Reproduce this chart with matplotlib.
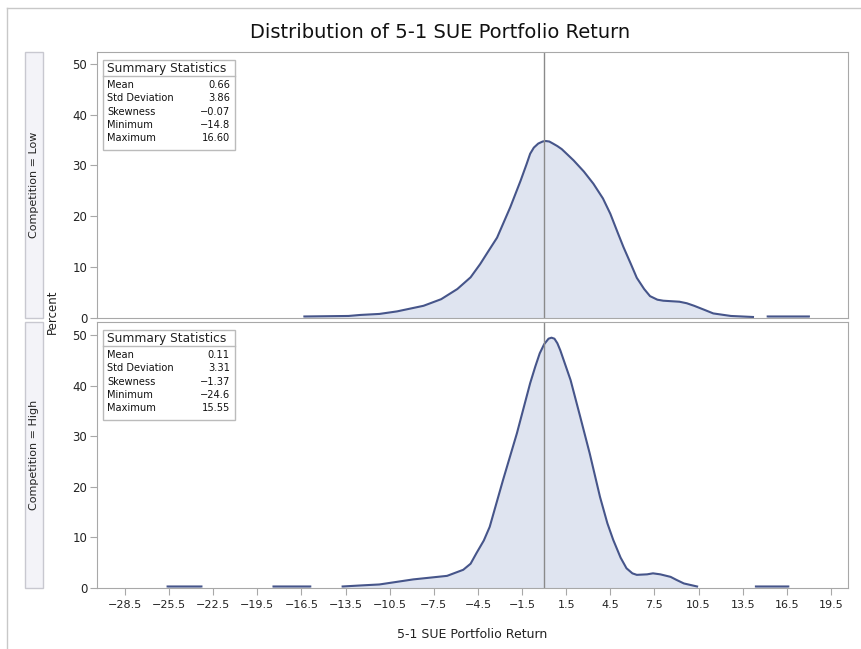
import numpy as np
import matplotlib
matplotlib.use("Agg")
import matplotlib.pyplot as plt
from matplotlib.patches import Rectangle
from matplotlib.lines import Line2D

# density curves (nan = gap in the curve)
low_x = [-16.3, -13.3, -12.5, -11.2, -10.0, -8.2, -7.0, -5.9, -5.0, -4.35, -3.8, -3.2, -2.3,
         -1.6, -1.2, -0.95, -0.7, -0.4, -0.1, 0.1, 0.35, 0.6, 0.9, 1.2, 2.0, 2.7, 3.35, 4.0,
         4.5, 5.0, 5.4, 5.9, 6.3, 6.8, 7.2, 7.7, 8.1, 9.2, 9.7, 10.2, 10.9, 11.5, 12.7, 14.2,
         np.nan, 15.2, 18.0]
low_y = [0.3, 0.4, 0.6, 0.8, 1.3, 2.4, 3.7, 5.7, 8.0, 10.6, 13.1, 15.8, 21.8,
         27.0, 30.2, 32.3, 33.5, 34.3, 34.7, 34.8, 34.7, 34.3, 33.8, 33.2, 31.0, 28.8, 26.4, 23.5,
         20.5, 16.8, 13.9, 10.6, 7.9, 5.7, 4.3, 3.6, 3.4, 3.2, 2.9, 2.4, 1.6, 0.9, 0.4, 0.2,
         np.nan, 0.3, 0.3]

high_x = [-25.6, -23.3, np.nan, -18.4, -15.9, np.nan, -13.7, -12.5, -11.2, -8.9, -6.6, -5.5,
          -5.0, -4.6, -4.1, -3.7, -2.8, -1.85, -0.95, -0.6, -0.3, 0.0, 0.3, 0.5, 0.7, 0.9, 1.1,
          1.8, 2.45, 3.1, 3.8, 4.3, 4.7, 5.2, 5.6, 6.0, 6.3, 7.0, 7.4, 7.9, 8.6, 9.0, 9.5, 10.4,
          np.nan, 14.4, 16.6]
high_y = [0.3, 0.3, np.nan, 0.3, 0.3, np.nan, 0.3, 0.5, 0.7, 1.7, 2.4, 3.6,
          4.8, 6.9, 9.4, 12.1, 21.3, 30.6, 40.5, 43.8, 46.4, 48.2, 49.3, 49.5, 49.3, 48.4, 47.0,
          41.1, 33.9, 26.6, 18.0, 12.8, 9.5, 6.0, 3.9, 2.9, 2.6, 2.7, 2.9, 2.7, 2.2, 1.6, 0.9, 0.3,
          np.nan, 0.3, 0.3]

stat_names = ["Mean", "Std Deviation", "Skewness", "Minimum", "Maximum"]
low_stats = ["0.66", "3.86", "\u22120.07", "\u221214.8", "16.60"]
high_stats = ["0.11", "3.31", "\u22121.37", "\u221224.6", "15.55"]

panel_labels = ["Competition = Low", "Competition = High"]
x_ticks = [-28.5, -25.5, -22.5, -19.5, -16.5, -13.5, -10.5, -7.5, -4.5, -1.5,
           1.5, 4.5, 7.5, 10.5, 13.5, 16.5, 19.5]
y_ticks = [0, 10, 20, 30, 40, 50]

W, H = 862, 649
fig = plt.figure(figsize=(W / 100, H / 100), dpi=100)

line_col = "#46558a"
fill_col = "#dfe4f0"
frame_col = "#a8a8a8"

def fx(px):
    return px / W

def fy(py):
    return 1 - py / H

# outer border
fig.add_artist(Line2D([fx(7), fx(7)], [fy(8), 0], color="#c8c8c8", lw=1))
fig.add_artist(Line2D([fx(7), 1], [fy(8), fy(8)], color="#c8c8c8", lw=1))

panels = [(52, 318, low_x, low_y, low_stats, 52.3),
          (322, 588, high_x, high_y, high_stats, 52.6)]

for i, (top, bot, xs, ys, stats, ytop) in enumerate(panels):
    ax = fig.add_axes([fx(97), fy(bot), fx(848) - fx(97), fy(top) - fy(bot)])
    xs = np.array(xs)
    ys = np.array(ys)
    ax.fill_between(xs, ys, 0, color=fill_col, lw=0)
    ax.plot(xs, ys, color=line_col, lw=1.5, solid_joinstyle="round")
    ax.axvline(0, color="#8a8a8a", lw=1)
    ax.set_xlim(-30.4, 20.66)
    ax.set_ylim(0, ytop)
    ax.set_yticks(y_ticks)
    ax.set_xticks(x_ticks)
    for s in ax.spines.values():
        s.set_color(frame_col)
    ax.tick_params(axis="y", direction="out", length=5, color=frame_col, labelsize=8.5,
                   pad=2, labelcolor="#222222")
    if i == 0:
        ax.tick_params(axis="x", bottom=False, labelbottom=False)
    else:
        ax.tick_params(axis="x", direction="out", length=5, color=frame_col, labelsize=8,
                       pad=4, labelcolor="#222222")
        ax.set_xticklabels([f"{t:.1f}".replace("-", "\u2212") for t in x_ticks])

    # summary statistics inset
    bx0, bx1 = 103, 235
    by0 = top + 8
    ax.add_patch(Rectangle((fx(bx0), fy(by0 + 90)), fx(bx1 - bx0), fy(0) - fy(90),
                           transform=fig.transFigure, facecolor="white",
                           edgecolor="#bbbbbb", lw=1, zorder=5))
    fig.add_artist(Line2D([fx(bx0), fx(bx1)], [fy(by0 + 16), fy(by0 + 16)],
                          color="#bbbbbb", lw=1, zorder=6))
    fig.text(fx(bx0 + 4), fy(by0 + 8.5), "Summary Statistics", fontsize=8.8,
             va="center", ha="left", color="#222222", zorder=7)
    for k, (nm, v) in enumerate(zip(stat_names, stats)):
        yy = fy(by0 + 25 + k * 13.3)
        fig.text(fx(bx0 + 4), yy, nm, fontsize=7.1, va="center", ha="left",
                 color="#111111", zorder=7)
        fig.text(fx(bx1 - 5), yy, v, fontsize=7.1, va="center", ha="right",
                 color="#111111", zorder=7)

    # strip label on the left
    fig.add_artist(Rectangle((fx(25), fy(bot)), fx(18), fy(top) - fy(bot),
                             facecolor="#f3f3f8", edgecolor="#c8c8d0", lw=1))
    fig.text(fx(34), fy((top + bot) / 2), panel_labels[i], rotation=90, fontsize=8,
             ha="center", va="center", color="#222222")

fig.text(fx(52), fy(312), "Percent", rotation=90, fontsize=8.5, ha="center", va="center",
         color="#222222")
fig.text(fx(440), fy(33), "Distribution of 5-1 SUE Portfolio Return", fontsize=14,
         ha="center", va="center", color="#111111")
fig.text(fx(472), fy(634), "5-1 SUE Portfolio Return", fontsize=9, ha="center",
         va="center", color="#222222")

fig.savefig("out.png", dpi=100)
